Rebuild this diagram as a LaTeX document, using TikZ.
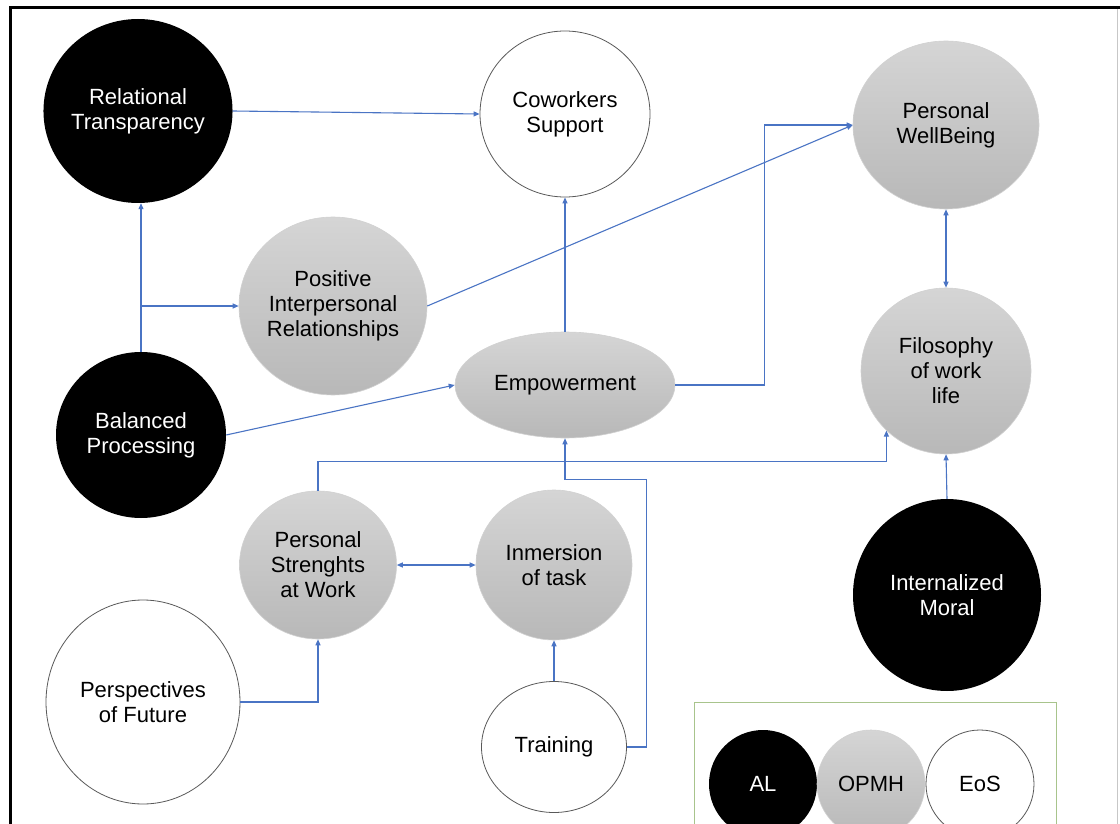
\documentclass[tikz,border=0pt]{standalone}
\usepackage{fontspec}
\setmainfont{Liberation Sans}
\usetikzlibrary{shapes.geometric,arrows.meta,calc}
\definecolor{conn}{HTML}{4A74C4}
\definecolor{gtop}{HTML}{D5D5D5}
\definecolor{gbot}{HTML}{B8B8B8}
\definecolor{legendgreen}{HTML}{A8C48C}
\begin{document}
\begin{tikzpicture}[x=1pt,y=-1pt,
  base/.style={ellipse, inner sep=0pt, align=center, font=\fontsize{22}{25}\selectfont},
  sz/.style 2 args={minimum width=#1, minimum height=#2},
  al/.style={base, fill=black, text=white},
  opmh/.style={base, top color=gtop, bottom color=gbot, draw=black!18, line width=0.6pt},
  eos/.style={base, fill=white, draw=black!65, line width=0.8pt},
  link/.style={draw=conn, line width=1.1pt, -{Triangle[length=6pt,width=5pt]}},
  dlink/.style={draw=conn, line width=1.1pt, {Triangle[length=6pt,width=5pt]}-{Triangle[length=6pt,width=5pt]}},
]
\useasboundingbox (0,0) rectangle (1120,824);
\begin{scope}
\clip (0,0) rectangle (1120,824);
\fill[white] (0,0) rectangle (1120,824);

% frame
\draw[line width=3pt] (10,824) -- (10,8) -- (1120,8);
\draw[black!22, line width=1pt] (1117,9.5) -- (1117,824);

% nodes
\node[al, sz={184pt}{184pt}] (RT) at (138,111) {Relational\\Transparency};
\node[eos, sz={170pt}{166pt}] (Cow) at (565,114) {Coworkers\\Support};
\node[opmh, sz={186pt}{168pt}] (PWB) at (946,125) {Personal\\WellBeing};
\node[opmh, sz={188pt}{178pt}] (PIR) at (333,306) {Positive\\Interpersonal\\Relationships};
\node[opmh, sz={220pt}{106pt}] (Emp) at (565,385) {Empowerment};
\node[opmh, sz={170pt}{166pt}] (Filo) at (946,371) {Filosophy\\of work\\life};
\node[al, sz={170pt}{166pt}] (BP) at (141,435) {Balanced\\Processing};
\node[opmh, sz={157pt}{148pt}] (PSW) at (318,565) {Personal\\Strenghts\\at Work};
\node[opmh, sz={156pt}{150pt}] (Inm) at (554,565) {Inmersion\\of task};
\node[eos, sz={194pt}{204pt}] (Persp) at (143,702) {Perspectives\\of Future};
\node[eos, sz={145pt}{131pt}] (Train) at (554,747) {Training};
\node[al, sz={188pt}{192pt}] (IM) at (947,595) {Internalized\\Moral};

% legend
\draw[legendgreen, line width=1pt] (694,702) rectangle (1056,860);
\node[al, sz={108pt}{108pt}] (AL) at (763,784) {AL};
\node[opmh, sz={108pt}{108pt}] (OP) at (871,784) {OPMH};
\node[eos, sz={108pt}{108pt}] (EO) at (980,784) {EoS};

% connectors
\draw[link] (RT.east) -- (Cow.west);
\draw[link] (BP.north) -- (BP.north |- RT.south);
\coordinate (br) at (BP.north |- PIR.west);
\draw[link] (br) -- (PIR.west);
\draw[link] (PIR.east) -- (PWB.west);
\draw[link] (BP.east) -- (Emp.west);
\draw[link] (Emp.north) -- (Cow.south);
\draw[link] (Emp.east) -- ++(89,0) |- (PWB.west);
\draw[dlink] (PWB.south) -- (Filo.north);
\draw[link] (IM.north) -- (Filo.south);
\draw[link] (PSW.north) |- ($(Filo.225)+(0,31)$) -- (Filo.225);
\draw[dlink] (PSW.east) -- (Inm.west);
\draw[link] (Persp.east) -| (PSW.south);
\draw[link] (Train.north) -- (Inm.south);
\draw[link] (Train.east) -- ++(20,0) |- ($(Emp.south)+(0,41)$) -- (Emp.south);
\end{scope}
\end{tikzpicture}
\end{document}
